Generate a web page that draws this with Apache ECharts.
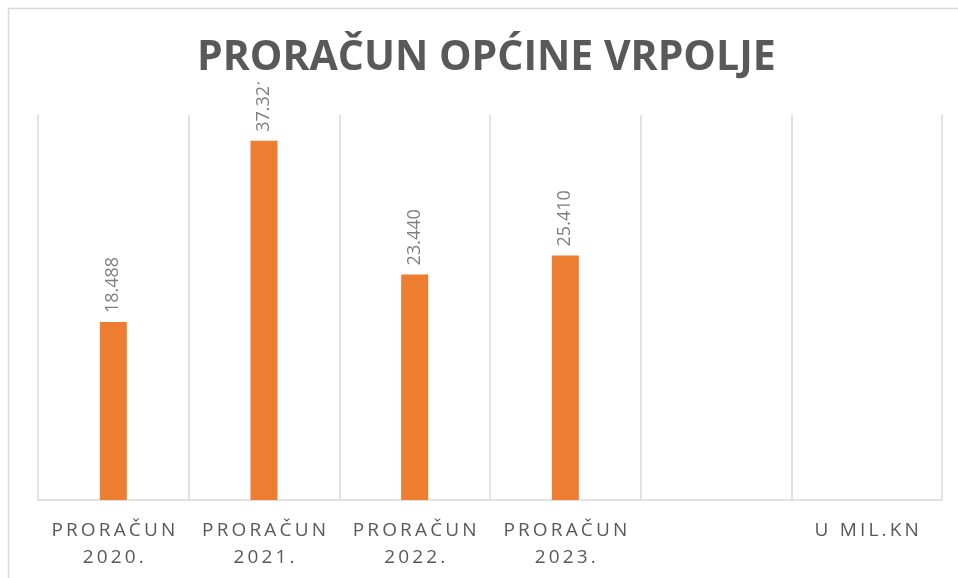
<!DOCTYPE html>
<html>
<head>
<meta charset="utf-8">
<script src="https://cdn.jsdelivr.net/npm/echarts@6/dist/echarts.min.js"></script>
<style>
html,body{margin:0;padding:0;background:#fff;}
#c{width:958px;height:578px;}
</style>
</head>
<body>
<div id="c"></div>
<script>
var titleText = 'PRORAČUN OPĆINE VRPOLJE';
var categories = ['PRORAČUN\n2020.', 'PRORAČUN\n2021.', 'PRORAČUN\n2022.', 'PRORAČUN\n2023.', '', 'U MIL.KN'];
var values = [18.488, 37.321, 23.440, 25.410, null, null];

function spaced(s, sp) {
  return s.split('\n').map(function (line) { return line.split('').join(sp); }).join('\n');
}

var chart = echarts.init(document.getElementById('c'), null, {renderer: 'canvas'});
chart.setOption({
  animation: false,
  backgroundColor: '#fff',
  graphic: [{
    type: 'rect', z: -10, silent: true,
    shape: {x: 8.5, y: 8.5, width: 1000, height: 1000},
    style: {fill: 'none', stroke: '#d9d9d9', lineWidth: 1.5}
  }],
  title: {
    text: titleText,
    left: 195,
    top: 36,
    padding: [0, 2, 2, 2],
    backgroundColor: '#fff',
    z: 20,
    textStyle: {fontFamily: 'Open Sans', fontWeight: 'bold', fontSize: 41, lineHeight: 44, color: '#595959'}
  },
  grid: {left: 38, right: 16, top: 115, bottom: 78},
  xAxis: {
    type: 'category',
    data: categories,
    axisLine: {lineStyle: {color: '#d9d9d9', width: 1.5}},
    axisTick: {show: false},
    splitLine: {show: true, lineStyle: {color: '#d9d9d9', width: 1.5}},
    axisLabel: {
      interval: 0,
      margin: 17,
      color: '#595959',
      fontFamily: 'Open Sans',
      fontSize: 19,
      lineHeight: 27,
      formatter: function (v) { return spaced(v, '\u2009'); }
    }
  },
  yAxis: {
    type: 'value', min: 0, max: 40,
    show: false,
    splitLine: {show: false}
  },
  series: [{
    type: 'bar',
    data: values,
    barWidth: 27,
    itemStyle: {color: '#ed7d31'},
    label: {
      show: true,
      position: 'top',
      rotate: 90,
      align: 'left',
      verticalAlign: 'middle',
      distance: 9,
      color: '#7f7f7f',
      fontFamily: 'Open Sans',
      fontSize: 18,
      formatter: function (p) { return p.value == null ? '' : p.value.toFixed(3); }
    }
  }]
});
</script>
</body>
</html>
